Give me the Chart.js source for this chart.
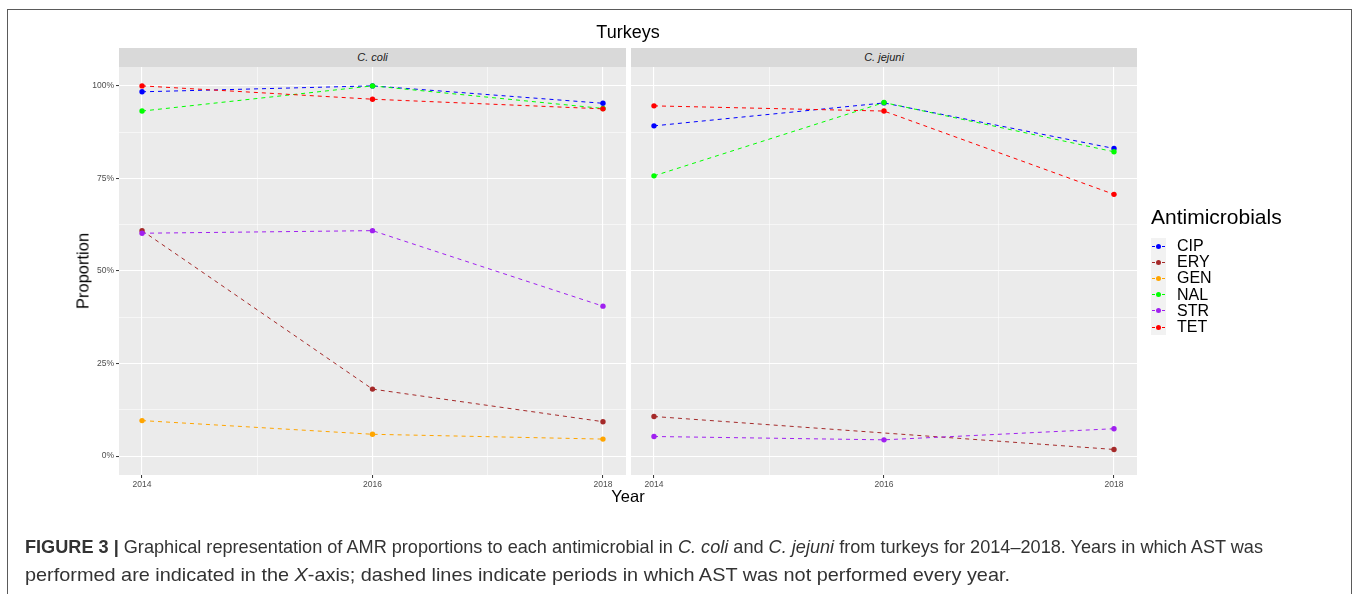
<!DOCTYPE html>
<html>
<head>
<meta charset="utf-8">
<script src="https://cdn.jsdelivr.net/npm/chart.js@4.4.0/dist/chart.umd.min.js"></script>
<style>
  html, body { margin:0; padding:0; background:#fff; }
  body { width:1358px; height:594px; position:relative; overflow:hidden; font-family:"Liberation Sans", Arial, sans-serif; }
  canvas { position:absolute; left:0; top:0; }
  .abs { position:absolute; white-space:nowrap; }
  #frame { position:absolute; left:7px; top:9px; width:1345px; height:620px; border:1.5px solid #5a5a5a; box-sizing:border-box; }
  .strip { position:absolute; top:48px; height:19px; background:#d9d9d9; color:#1a1a1a; font-size:11px; font-style:italic; text-align:center; line-height:19px; }
  .legkey { position:absolute; left:1151px; width:15px; height:16.2px; background:#f2f2f2; }
  .legkey .ln { position:absolute; left:1px; top:7.6px; width:13px; height:0; border-top:1px dashed; }
  .legkey .dot { position:absolute; left:5px; top:5.6px; width:5px; height:5px; border-radius:50%; }
  .legtxt { position:absolute; left:1177px; font-size:16px; color:#000; line-height:16.2px; }
  .cap { position:absolute; left:25px; font-family:"Liberation Sans Narrow","Arial Narrow","Liberation Sans",sans-serif; font-size:18.5px; color:#333; transform-origin:0 50%; white-space:nowrap; }
</style>
</head>
<body>
<div id="frame"></div>
<canvas id="c1" width="1358" height="594"></canvas>
<canvas id="c2" width="1358" height="594"></canvas>

<div class="strip" style="left:119px;width:507px;">C. coli</div>
<div class="strip" style="left:631px;width:506px;">C. jejuni</div>

<div class="abs" style="left:0;width:1256px;top:22px;text-align:center;font-size:18px;color:#000;">Turkeys</div>
<div class="abs" style="left:628px;top:496px;transform:translate(-50%,-50%);font-size:16.5px;color:#000;">Year</div>
<div class="abs" style="left:83px;top:271px;transform:translate(-50%,-50%) rotate(-90deg);font-size:16.5px;color:#000;">Proportion</div>

<div class="abs" style="left:1151px;top:205px;font-size:21px;color:#000;">Antimicrobials</div>
<div id="legend"></div>

<div class="cap" id="cap1" style="top:536px;"><b>FIGURE 3 |</b> Graphical representation of AMR proportions to each antimicrobial in <i>C. coli</i> and <i>C. jejuni</i> from turkeys for 2014–2018. Years in which AST was</div>
<div class="cap" id="cap2" style="top:564px;">performed are indicated in the <i>X</i>-axis; dashed lines indicate periods in which AST was not performed every year.</div>

<script>
// ---- data ----
const years = [2014, 2016, 2018];
const minorYears = [2015, 2017];
const yTickValues = [0, 25, 50, 75, 100];
const yMinorValues = [12.5, 37.5, 62.5, 87.5];
const antimicrobials = ['CIP', 'ERY', 'GEN', 'NAL', 'STR', 'TET'];

const coliCIP = [98.4, 100, 95.3];
const coliERY = [60.9, 18.1, 9.3];
const coliGEN = [9.6, 5.9, 4.6];
const coliNAL = [93.2, 100, 93.9];
const coliSTR = [60.2, 60.9, 40.5];
const coliTET = [100, 96.4, 93.8];

const jejuniCIP = [89.2, 95.4, 83.1];
const jejuniERY = [10.7, null, 1.8];
const jejuniGEN = [null, null, null];
const jejuniNAL = [75.7, 95.5, 82.2];
const jejuniSTR = [5.3, 4.4, 7.4];
const jejuniTET = [94.6, 93.2, 70.7];

// ---- styles ----
const seriesColors = ['#0000ff', '#a52a2a', '#ffa500', '#00ff00', '#a020f0', '#ff0000'];

const coliSeries = [coliCIP, coliERY, coliGEN, coliNAL, coliSTR, coliTET];
const jejuniSeries = [jejuniCIP, jejuniERY, jejuniGEN, jejuniNAL, jejuniSTR, jejuniTET];

const panelBg = {
  id: 'panelBg',
  beforeDraw(chart) {
    const a = chart.chartArea, ctx = chart.ctx;
    ctx.save();
    ctx.fillStyle = '#ebebeb';
    ctx.fillRect(a.left, a.top, a.right - a.left, a.bottom - a.top);
    ctx.restore();
  }
};

function makeDatasets(series) {
  const ds = [];
  series.forEach((vals, i) => {
    const pts = years.map((yr, k) => ({ x: yr, y: vals[k] }));
    ds.push({
      label: antimicrobials[i],
      data: pts,
      borderColor: seriesColors[i],
      borderWidth: 1,
      borderDash: [4, 4],
      pointRadius: 0,
      spanGaps: true,
      fill: false,
      order: 100 - i
    });
    ds.push({
      label: antimicrobials[i] + ' pts',
      data: pts,
      showLine: false,
      pointRadius: 2.7,
      pointBorderWidth: 0,
      pointBackgroundColor: seriesColors[i],
      borderColor: seriesColors[i],
      order: 50 - i
    });
  });
  return ds;
}

function gridColor(ctx) { return '#ffffff'; }

function makeChart(id, series, left, right, showY) {
  const yW = showY ? 30 : 0;
  const xH = 20;
  return new Chart(document.getElementById(id), {
    type: 'line',
    data: { datasets: makeDatasets(series) },
    plugins: [panelBg],
    options: {
      responsive: false,
      animation: false,
      events: [],
      devicePixelRatio: 1,
      layout: { padding: { left: left - yW, right: 1358 - right, top: 67, bottom: 594 - 475 - xH } },
      plugins: { legend: { display: false }, tooltip: { enabled: false }, title: { display: false } },
      scales: {
        x: {
          type: 'linear',
          min: 2013.8, max: 2018.2,
          afterBuildTicks(scale) {
            scale.ticks = years.concat(minorYears).sort().map(v => ({ value: v }));
          },
          afterFit(scale) { scale.height = xH; },
          border: { display: false },
          grid: {
            color: gridColor,
            lineWidth: c => (years.includes(c.tick && c.tick.value) ? 1.1 : 0.55),
            drawTicks: true,
            tickLength: 3,
            tickColor: c => (years.includes(c.tick && c.tick.value) ? '#333333' : 'rgba(0,0,0,0)'),
            tickWidth: 1
          },
          ticks: {
            autoSkip: false, maxRotation: 0, minRotation: 0,
            padding: 1.5,
            color: '#4d4d4d',
            font: { family: 'Liberation Sans', size: 8.5 },
            callback: v => (years.includes(v) ? String(v) : '')
          }
        },
        y: {
          type: 'linear',
          min: -5.1, max: 105.1,
          afterBuildTicks(scale) {
            scale.ticks = yTickValues.concat(yMinorValues).sort((a, b) => a - b).map(v => ({ value: v }));
          },
          afterFit(scale) { scale.width = yW; },
          border: { display: false },
          grid: {
            color: gridColor,
            lineWidth: c => (yTickValues.includes(c.tick && c.tick.value) ? 1.1 : 0.55),
            drawTicks: showY,
            tickLength: 3,
            tickColor: c => (yTickValues.includes(c.tick && c.tick.value) ? '#333333' : 'rgba(0,0,0,0)'),
            tickWidth: 1
          },
          ticks: {
            display: showY,
            autoSkip: false,
            padding: 2,
            color: '#4d4d4d',
            font: { family: 'Liberation Sans', size: 8.5 },
            callback: v => (yTickValues.includes(v) ? v + '%' : '')
          }
        }
      }
    }
  });
}

makeChart('c1', coliSeries, 119, 626, true);
makeChart('c2', jejuniSeries, 631, 1137, false);

// legend
const leg = document.getElementById('legend');
antimicrobials.forEach((name, i) => {
  const top = 238 + i * 16.2;
  const key = document.createElement('div');
  key.className = 'legkey';
  key.style.top = top + 'px';
  key.innerHTML = '<div class="ln" style="border-color:' + seriesColors[i] + '"></div><div class="dot" style="background:' + seriesColors[i] + '"></div>';
  leg.appendChild(key);
  const t = document.createElement('div');
  t.className = 'legtxt';
  t.style.top = top + 'px';
  t.textContent = name;
  leg.appendChild(t);
});

// fit caption lines to the reference widths
function fit(id, target) {
  const el = document.getElementById(id);
  const w = el.getBoundingClientRect().width;
  if (w > 0) el.style.transform = 'scaleX(' + (target / w) + ')';
}
fit('cap1', 1238);
fit('cap2', 985);
</script>
</body>
</html>
